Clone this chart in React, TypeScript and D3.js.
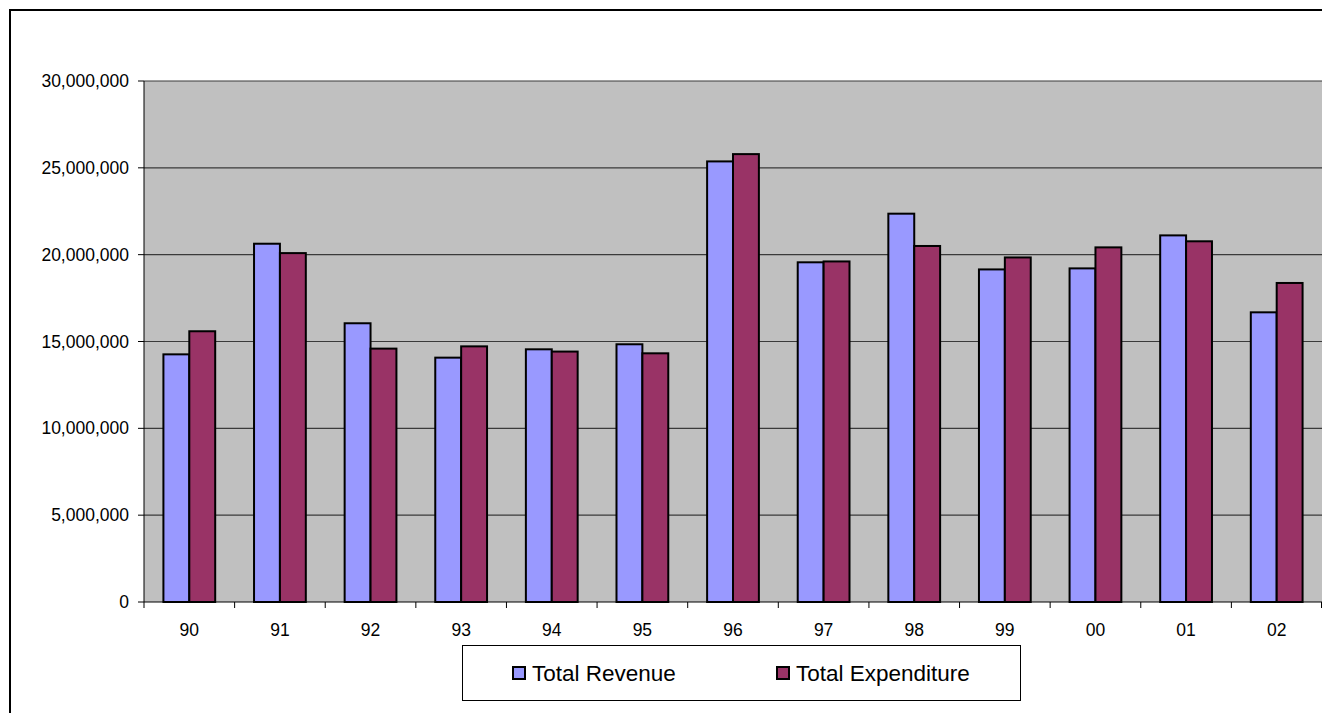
import React from "react";
import * as d3 from "d3";

const categories = ["90", "91", "92", "93", "94", "95", "96", "97", "98", "99", "00", "01", "02"];
const revenue = [14260000, 20630000, 16050000, 14070000, 14550000, 14840000, 25370000, 19560000, 22360000, 19150000, 19210000, 21110000, 16680000];
const expenditure = [15590000, 20090000, 14590000, 14720000, 14420000, 14320000, 25790000, 19610000, 20500000, 19840000, 20420000, 20770000, 18370000];
const yTicks = [0, 5000000, 10000000, 15000000, 20000000, 25000000, 30000000];
const seriesNames = ["Total Revenue", "Total Expenditure"];
const seriesColors = ["#9999FF", "#993366"];

const W = 1322;
const H = 713;
const plot = { left: 144, right: 1322, top: 81, bottom: 602 };
const font = "'Liberation Sans', Arial, sans-serif";

export default function App() {
  const x = d3.scaleBand<string>().domain(categories).range([plot.left, plot.right]).padding(0);
  const sub = d3
    .scaleBand<string>()
    .domain(seriesNames)
    .range([0, x.bandwidth()])
    .paddingInner(0)
    .paddingOuter(0.75);
  const y = d3.scaleLinear().domain([0, 30000000]).range([plot.bottom, plot.top]);
  const fmt = d3.format(",");
  const series = [revenue, expenditure];

  return (
    <svg
      width={W}
      height={H}
      style={{ position: "absolute", left: 0, top: 0, background: "#fff" }}
      fontFamily={font}
    >
      <rect x={0} y={0} width={W} height={H} fill="#fff" />
      {/* outer chart border */}
      <rect x={10} y={10} width={W + 20} height={H + 20} fill="none" stroke="#000" strokeWidth={2} />
      {/* plot background */}
      <rect
        x={plot.left}
        y={plot.top}
        width={plot.right - plot.left}
        height={plot.bottom - plot.top}
        fill="#C0C0C0"
      />
      {/* gridlines */}
      {yTicks.slice(1).map((t) => (
        <line
          key={"g" + t}
          x1={plot.left}
          x2={plot.right}
          y1={y(t)}
          y2={y(t)}
          stroke="#3a3a3a"
          strokeWidth={1.2}
        />
      ))}
      {/* bars */}
      {categories.map((c, i) =>
        seriesNames.map((s, k) => {
          const v = series[k][i];
          const bx = (x(c) as number) + (sub(s) as number);
          return (
            <rect
              key={c + s}
              x={bx}
              y={y(v)}
              width={sub.bandwidth()}
              height={y(0) - y(v)}
              fill={seriesColors[k]}
              stroke="#000"
              strokeWidth={2}
            />
          );
        })
      )}
      {/* y axis */}
      <line x1={plot.left} x2={plot.left} y1={plot.top} y2={plot.bottom} stroke="#000" strokeWidth={1} />
      {yTicks.map((t) => (
        <g key={"y" + t}>
          <line x1={plot.left - 6} x2={plot.left} y1={y(t)} y2={y(t)} stroke="#000" strokeWidth={1} />
          <text x={129} y={y(t) + 6} textAnchor="end" fontSize={17.5} fill="#000">
            {fmt(t)}
          </text>
        </g>
      ))}
      {/* x axis */}
      <line x1={plot.left} x2={plot.right} y1={plot.bottom} y2={plot.bottom} stroke="#000" strokeWidth={1} />
      {categories.map((c, i) => (
        <g key={"x" + c}>
          <line
            x1={(x(c) as number)}
            x2={(x(c) as number)}
            y1={plot.bottom}
            y2={plot.bottom + 6}
            stroke="#000"
            strokeWidth={1}
          />
          <text
            x={(x(c) as number) + x.bandwidth() / 2}
            y={636}
            textAnchor="middle"
            fontSize={17.5}
            fill="#000"
          >
            {c}
          </text>
        </g>
      ))}
      <line x1={plot.right - 0.5} x2={plot.right - 0.5} y1={plot.bottom} y2={plot.bottom + 6} stroke="#000" />
      {/* legend */}
      <rect x={462.5} y={645.5} width={558} height={55} fill="#fff" stroke="#000" strokeWidth={1} />
      {seriesNames.map((s, k) => {
        const mx = [512, 776][k];
        return (
          <g key={"l" + s}>
            <rect x={mx + 1} y={667} width={12} height={12} fill={seriesColors[k]} stroke="#000" strokeWidth={2} />
            <text x={mx + 20} y={681} fontSize={22.5} fill="#000">
              {s}
            </text>
          </g>
        );
      })}
    </svg>
  );
}
